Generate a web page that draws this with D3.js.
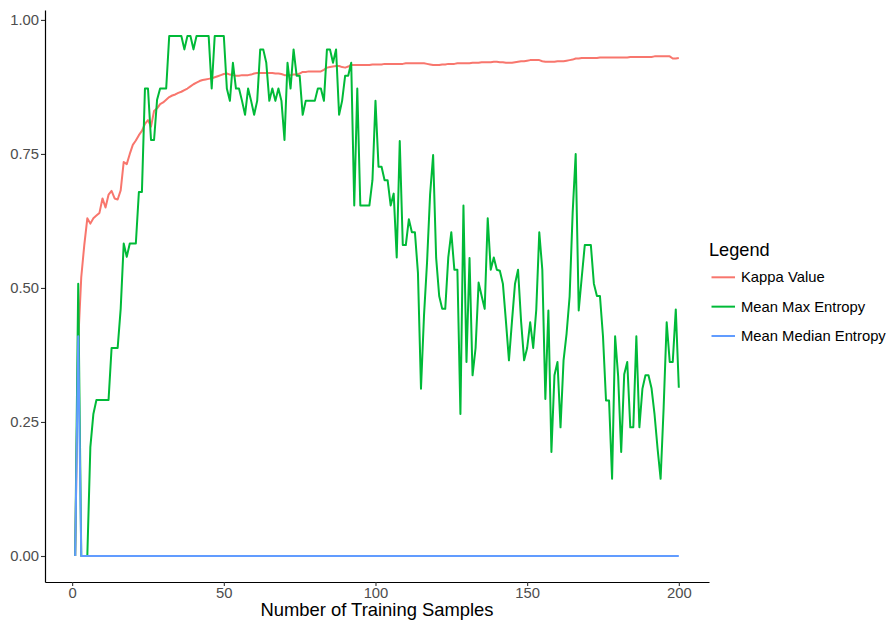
<!DOCTYPE html>
<html>
<head>
<meta charset="utf-8">
<script src="https://cdn.jsdelivr.net/npm/d3@7/dist/d3.min.js"></script>
<style>
  html, body { margin: 0; padding: 0; background: #ffffff; }
  svg { display: block; font-family: "Liberation Sans", Arial, Helvetica, sans-serif; }
</style>
</head>
<body>
<svg id="chart" width="890" height="621"></svg>
<script>
// Number of training samples (x) for every recorded step
const samples = d3.range(1, 201);

// Cohen's kappa of the classifier after each step
const kappaValue = [
  0, 0.40, 0.52, 0.58, 0.63, 0.62, 0.63, 0.635, 0.64, 0.667,
  0.65, 0.674, 0.681, 0.667, 0.665, 0.682, 0.735, 0.731, 0.750, 0.767,
  0.775, 0.785, 0.793, 0.806, 0.813, 0.801, 0.830, 0.835, 0.843, 0.846,
  0.851, 0.856, 0.859, 0.861, 0.864, 0.866, 0.869, 0.872, 0.876, 0.880,
  0.883, 0.886, 0.888, 0.889, 0.890, 0.891, 0.893, 0.895, 0.897, 0.899,
  0.900, 0.898, 0.897, 0.896, 0.896, 0.897, 0.897, 0.897, 0.898, 0.900,
  0.901, 0.901, 0.901, 0.901, 0.901, 0.901, 0.900, 0.900, 0.899, 0.897,
  0.897, 0.897, 0.898, 0.898, 0.900, 0.903, 0.903, 0.904, 0.904, 0.904,
  0.904, 0.904, 0.907, 0.911, 0.912, 0.913, 0.914, 0.914, 0.912, 0.911,
  0.913, 0.916, 0.916, 0.916, 0.916, 0.916, 0.916, 0.916, 0.917, 0.917,
  0.917, 0.917, 0.918, 0.918, 0.918, 0.918, 0.918, 0.918, 0.918, 0.919,
  0.919, 0.919, 0.919, 0.919, 0.919, 0.919, 0.918, 0.917, 0.916, 0.916,
  0.916, 0.917, 0.917, 0.918, 0.918, 0.918, 0.919, 0.919, 0.919, 0.919,
  0.919, 0.920, 0.920, 0.920, 0.921, 0.921, 0.921, 0.921, 0.922, 0.922,
  0.921, 0.921, 0.920, 0.920, 0.920, 0.921, 0.922, 0.923, 0.923, 0.924,
  0.925, 0.925, 0.925, 0.925, 0.923, 0.922, 0.922, 0.922, 0.922, 0.923,
  0.923, 0.923, 0.924, 0.925, 0.926, 0.928, 0.928, 0.929, 0.929, 0.929,
  0.929, 0.929, 0.929, 0.930, 0.930, 0.930, 0.930, 0.930, 0.930, 0.930,
  0.930, 0.930, 0.930, 0.931, 0.931, 0.931, 0.931, 0.931, 0.931, 0.931,
  0.931, 0.932, 0.932, 0.932, 0.932, 0.932, 0.932, 0.928, 0.928, 0.929
];

// Mean of the maximum entropy over the unlabeled pool
const meanMaxEntropy = [
  0, 0.508, 0, 0, 0, 0.203, 0.265, 0.291, 0.291, 0.291,
  0.291, 0.291, 0.388, 0.388, 0.388, 0.461, 0.583, 0.558, 0.583, 0.583,
  0.583, 0.679, 0.679, 0.872, 0.872, 0.776, 0.776, 0.851, 0.872, 0.872,
  0.872, 0.970, 0.970, 0.970, 0.970, 0.970, 0.945, 0.970, 0.970, 0.945,
  0.970, 0.970, 0.970, 0.970, 0.970, 0.872, 0.970, 0.970, 0.970, 0.970,
  0.872, 0.849, 0.920, 0.872, 0.872, 0.849, 0.823, 0.872, 0.849, 0.823,
  0.849, 0.945, 0.945, 0.920, 0.849, 0.872, 0.849, 0.872, 0.849, 0.776,
  0.920, 0.872, 0.945, 0.896, 0.896, 0.823, 0.849, 0.849, 0.849, 0.849,
  0.872, 0.872, 0.849, 0.945, 0.945, 0.920, 0.945, 0.823, 0.849, 0.896,
  0.896, 0.920, 0.654, 0.872, 0.654, 0.654, 0.654, 0.654, 0.701, 0.849,
  0.726, 0.726, 0.701, 0.701, 0.654, 0.676, 0.557, 0.774, 0.580, 0.580,
  0.628, 0.604, 0.604, 0.528, 0.312, 0.449, 0.548, 0.674, 0.748, 0.556,
  0.485, 0.461, 0.461, 0.557, 0.604, 0.534, 0.534, 0.265, 0.654, 0.362,
  0.556, 0.337, 0.388, 0.510, 0.485, 0.461, 0.630, 0.534, 0.557, 0.534,
  0.532, 0.508, 0.438, 0.365, 0.438, 0.508, 0.534, 0.438, 0.365, 0.388,
  0.436, 0.388, 0.459, 0.604, 0.534, 0.293, 0.458, 0.194, 0.337, 0.362,
  0.240, 0.365, 0.415, 0.484, 0.640, 0.750, 0.458, 0.520, 0.580, 0.580,
  0.580, 0.508, 0.485, 0.485, 0.410, 0.290, 0.290, 0.144, 0.410, 0.335,
  0.194, 0.339, 0.362, 0.240, 0.240, 0.410, 0.240, 0.312, 0.337, 0.337,
  0.313, 0.264, 0.200, 0.144, 0.277, 0.436, 0.362, 0.362, 0.460, 0.314
];

// Mean of the median entropy over the unlabeled pool
const meanMedianEntropy = [0, 0.41].concat(new Array(198).fill(0));

const seriesNames = ["Kappa Value", "Mean Max Entropy", "Mean Median Entropy"];
const seriesColors = ["#F8766D", "#00BA38", "#619CFF"];
const xTicks = [0, 50, 100, 150, 200];
const yTicks = [0, 0.25, 0.5, 0.75, 1];
const xTitle = "Number of Training Samples";
const legendTitle = "Legend";

const series = [kappaValue, meanMaxEntropy, meanMedianEntropy].map((vals, i) => ({
  name: seriesNames[i],
  color: seriesColors[i],
  points: samples.map((s, j) => ({ x: s, y: vals[j] }))
}));

const svg = d3.select("#chart");
const panel = { left: 45, right: 709, top: 10, bottom: 582 };

// continuous scales padded by 5% of the data range on each side
function padded(ext) {
  const d = (ext[1] - ext[0]) * 0.05;
  return [ext[0] - d, ext[1] + d];
}
const xExt = d3.extent(samples);
const yExt = d3.extent([].concat(kappaValue, meanMaxEntropy, meanMedianEntropy));

const x = d3.scaleLinear().domain(padded(xExt)).range([panel.left, panel.right]);
const y = d3.scaleLinear().domain(padded(yExt)).range([panel.bottom, panel.top]);

// data lines
const line = d3.line().x(d => x(d.x)).y(d => y(d.y));
svg.append("g")
  .selectAll("path")
  .data(series)
  .join("path")
  .attr("d", d => line(d.points))
  .attr("fill", "none")
  .attr("stroke", d => d.color)
  .attr("stroke-width", 2)
  .attr("stroke-linejoin", "round")
  .attr("stroke-linecap", "butt");

// axes
const fmt = d3.format(".2f");
const yAxis = svg.append("g")
  .attr("transform", `translate(${panel.left},0)`)
  .call(d3.axisLeft(y).tickValues(yTicks).tickFormat(fmt).tickSize(4).tickSizeOuter(0).tickPadding(2));
const xAxis = svg.append("g")
  .attr("transform", `translate(0,${panel.bottom})`)
  .call(d3.axisBottom(x).tickValues(xTicks).tickFormat(d3.format("d")).tickSize(4).tickSizeOuter(0).tickPadding(1));

[xAxis, yAxis].forEach(g => {
  g.select(".domain").attr("stroke", "#000").attr("stroke-width", 1.2);
  g.selectAll(".tick line").attr("stroke", "#333333").attr("stroke-width", 1.1);
  g.selectAll(".tick text")
    .attr("fill", "#4D4D4D")
    .style("font-size", "14.8px")
    .style("font-family", "'Liberation Sans', Arial, Helvetica, sans-serif");
});

// x-axis title
svg.append("text")
  .attr("x", (panel.left + panel.right) / 2)
  .attr("y", 616)
  .attr("text-anchor", "middle")
  .attr("fill", "#000")
  .style("font-size", "18.4px")
  .text(xTitle);

// legend
const legend = svg.append("g");
legend.append("text")
  .attr("x", 709)
  .attr("y", 256)
  .attr("fill", "#000")
  .style("font-size", "18.2px")
  .text(legendTitle);

const items = legend.selectAll("g.item")
  .data(series)
  .join("g")
  .attr("class", "item")
  .attr("transform", (d, i) => `translate(0,${277.3 + i * 29.35})`);
items.append("line")
  .attr("x1", 711.5).attr("x2", 735)
  .attr("y1", 0).attr("y2", 0)
  .attr("stroke", d => d.color)
  .attr("stroke-width", 2);
items.append("text")
  .attr("x", 741)
  .attr("y", 0)
  .attr("dy", "0.35em")
  .attr("fill", "#000")
  .style("font-size", "14.8px")
  .text(d => d.name);
</script>
</body>
</html>
